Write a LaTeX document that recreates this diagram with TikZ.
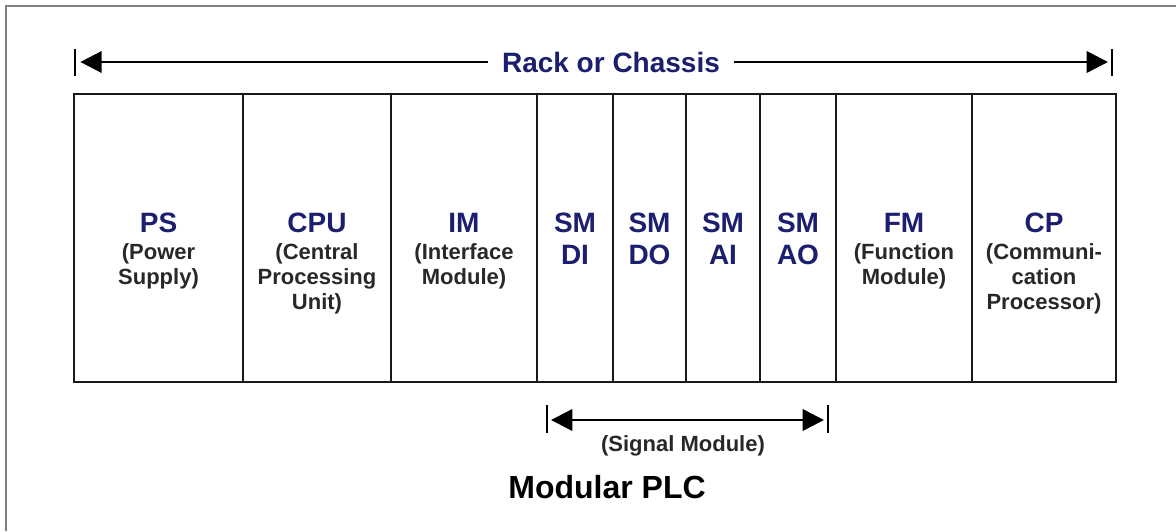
\documentclass[tikz,border=0pt]{standalone}
\usepackage{fontspec}
\setmainfont{Liberation Sans}
\usetikzlibrary{arrows.meta,fit}
\definecolor{navy}{RGB}{28,30,110}
\definecolor{subc}{RGB}{40,40,40}
\definecolor{edge}{RGB}{25,25,25}
\newcommand{\plctitle}{\fontsize{21pt}{24pt}\selectfont\bfseries}
\newcommand{\plcsub}{\fontsize{16.5pt}{18.75pt}\selectfont\bfseries}
\newcommand{\plcbig}{\fontsize{24pt}{28pt}\selectfont\bfseries}
\newcommand{\plclines}[1]{\begin{tabular}[t]{@{}c@{}}#1\end{tabular}}
\begin{document}
\begin{tikzpicture}[x=0.75pt,y=-0.75pt,
  cell/.style={draw=edge,line width=1.9pt,inner sep=0pt},
  ttl/.style={anchor=base,inner sep=0pt,text=navy,font=\plctitle},
  sub/.style={anchor=base,inner sep=0pt,text=subc,font=\plcsub},
  dimline/.style={draw=black,line width=1.9pt},
  tip/.tip={Triangle[length=16pt,width=16pt]},
  barline/.style={draw=black,line width=1.9pt}]
\useasboundingbox (0,0) rectangle (1176,531);
\draw[gray,line width=0.9pt] (6,531) -- (6,6) -- (1176,6);

% rack cells
\node[cell,fit={(74,94)(243,382)}] (ps) {};
\node[cell,fit={(243,94)(391,382)}] (cpu) {};
\node[cell,fit={(391,94)(537,382)}] (im) {};
\node[cell,fit={(537,94)(613,382)}] (di) {};
\node[cell,fit={(613,94)(686,382)}] (do) {};
\node[cell,fit={(686,94)(760,382)}] (ai) {};
\node[cell,fit={(760,94)(836,382)}] (ao) {};
\node[cell,fit={(836,94)(972,382)}] (fm) {};
\node[cell,fit={(972,94)(1116,382)}] (cp) {};

\coordinate (tyA) at (0,232);
\coordinate (tyB) at (0,259);

\node[ttl] (psT) at (ps |- tyA) {PS};
\node[sub] (psS) at (ps |- tyB) {\plclines{(Power\\Supply)}};
\node[ttl] (cpuT) at (cpu |- tyA) {CPU};
\node[sub] (cpuS) at (cpu |- tyB) {\plclines{(Central\\Processing\\Unit)}};
\node[ttl] (imT) at (im |- tyA) {IM};
\node[sub] (imS) at (im |- tyB) {\plclines{(Interface\\Module)}};
\node[ttl] (diT) at (di |- tyA) {\plclines{SM\\DI}};
\node[ttl] (doT) at (do |- tyA) {\plclines{SM\\DO}};
\node[ttl] (aiT) at (ai |- tyA) {\plclines{SM\\AI}};
\node[ttl] (aoT) at (ao |- tyA) {\plclines{SM\\AO}};
\node[ttl] (fmT) at (fm |- tyA) {FM};
\node[sub] (fmS) at (fm |- tyB) {\plclines{(Function\\Module)}};
\node[ttl] (cpT) at (cp |- tyA) {CP};
\node[sub] (cpS) at (cp |- tyB) {\plclines{(Communi-\\cation\\Processor)}};

% top dimension arrow
\coordinate (rl) at (75,62);
\coordinate (rr) at (1112,62);
\node[font=\plctitle,text=navy,fill=white,inner xsep=10pt,inner ysep=3pt] (rack) at (611,62) {Rack or Chassis};
\draw[dimline,{tip}-,shorten <=4pt] (rl) -- (rack);
\draw[dimline,-{tip},shorten >=3pt] (rack) -- (rr);
\draw[barline] ([yshift=10pt]rl) -- ([yshift=-10.5pt]rl);
\draw[barline] ([yshift=10pt]rr) -- ([yshift=-10.5pt]rr);

% signal module arrow
\coordinate (sl) at (547,420);
\coordinate (sr) at (828,420);
\draw[dimline,{tip}-{tip},shorten <=3pt,shorten >=3pt] (sl) -- (sr);
\draw[barline] ([yshift=11pt]sl) -- ([yshift=-10pt]sl);
\draw[barline] ([yshift=11pt]sr) -- ([yshift=-10pt]sr);
\node[sub] (sig) at (683,451) {(Signal Module)};

\node[anchor=base,inner sep=0pt,font=\plcbig,text=black] (plc) at (607,498) {Modular PLC};
\end{tikzpicture}
\end{document}
